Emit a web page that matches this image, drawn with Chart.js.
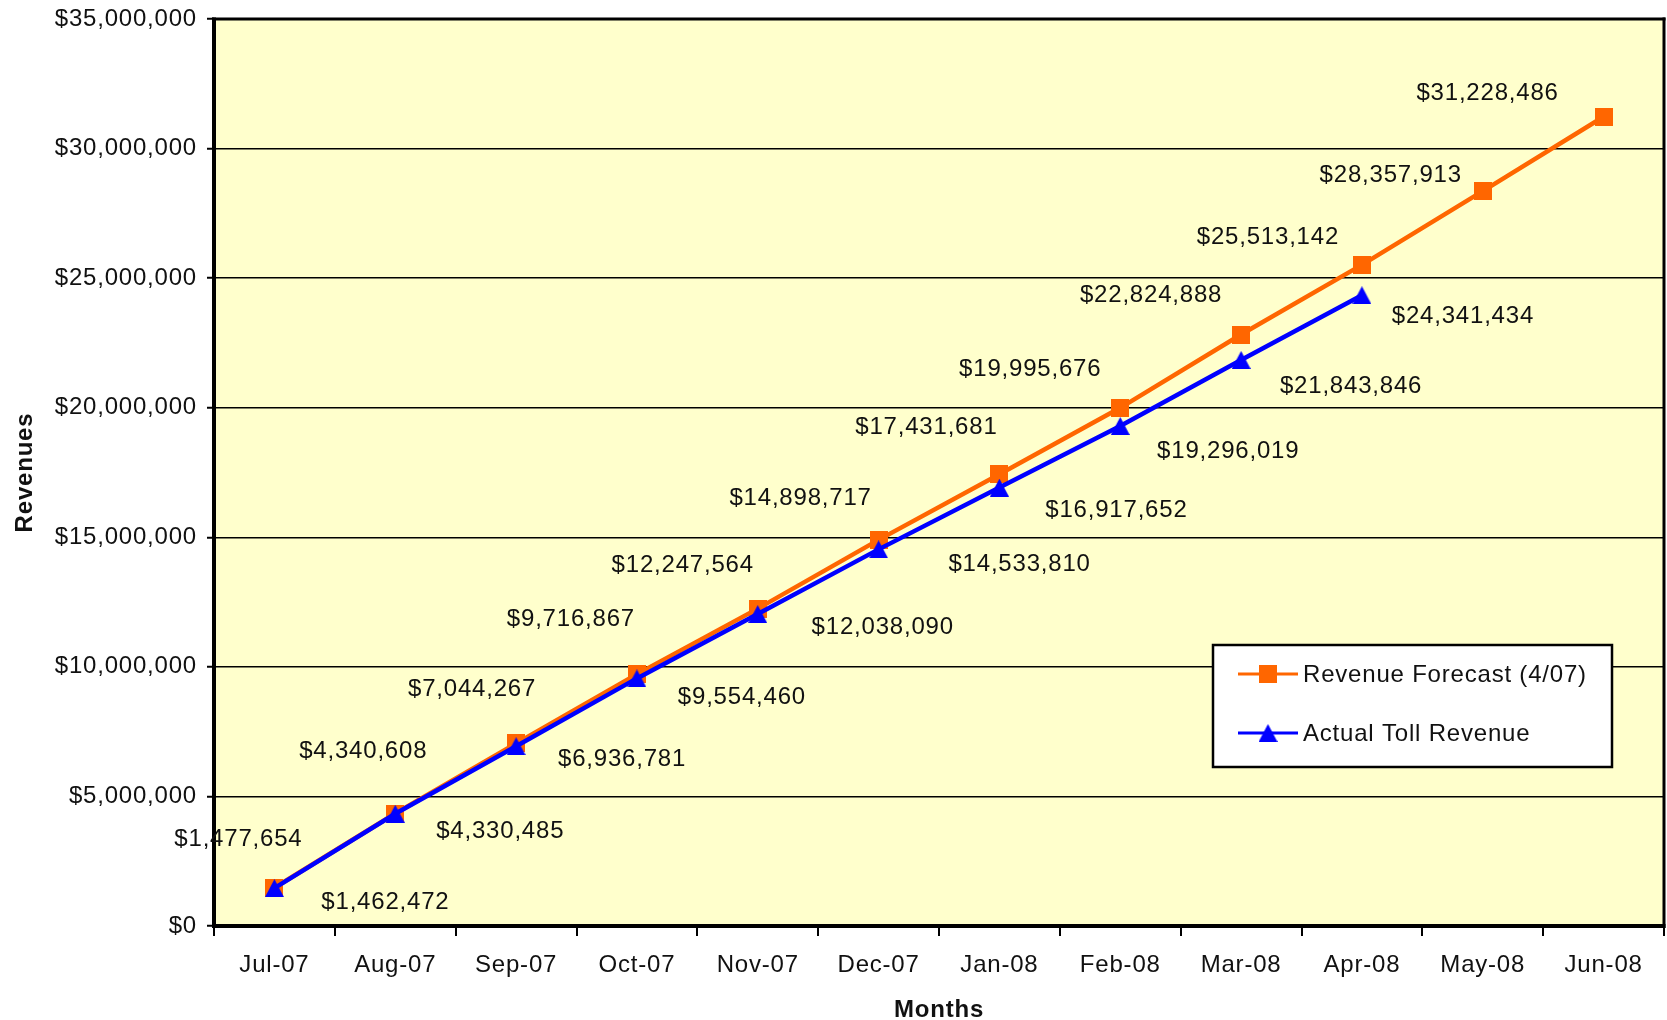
<!DOCTYPE html>
<html>
<head>
<meta charset="utf-8">
<script src="https://cdn.jsdelivr.net/npm/chart.js@4.4.0/dist/chart.umd.min.js"></script>
<style>
html,body{margin:0;padding:0;background:#fff;}
canvas{display:block;}
</style>
</head>
<body>
<canvas id="c" width="1667" height="1020" style="width:1667px;height:1020px"></canvas>
<script>
// ---- data ----
const months = ['Jul-07','Aug-07','Sep-07','Oct-07','Nov-07','Dec-07','Jan-08','Feb-08','Mar-08','Apr-08','May-08','Jun-08'];
const forecastRevenue = [1477654, 4340608, 7044267, 9716867, 12247564, 14898717, 17431681, 19995676, 22824888, 25513142, 28357913, 31228486];
const actualRevenue = [1462472, 4330485, 6936781, 9554460, 12038090, 14533810, 16917652, 19296019, 21843846, 24341434, null, null];
const seriesNames = ['Revenue Forecast (4/07)', 'Actual Toll Revenue'];
const yAxisMin = 0, yAxisMax = 35000000, yAxisStep = 5000000;
const xAxisTitle = 'Months';
const yAxisTitle = 'Revenues';

// ---- styling (label placement offsets in px relative to each point) ----
const forecastLabelShift = [[-36,-48],[-32,-62],[-44,-54],[-66,-55],[-75,-43],[-78,-42],[-73,-47],[-90,-38],[-90,-39],[-94,-27],[-92,-16],[-116,-23]];
const actualLabelShift = [[111,14],[105,18],[106,13],[105,19],[125,13],[141,15],[117,23],[108,25],[110,26],[101,21]];

const FONT = '"Liberation Sans", Arial, sans-serif';
const TEXT = '#111';
const money = v => '$' + Number(v).toLocaleString('en-US');

function makeSquare(size, color){
  const c = document.createElement('canvas'); c.width = size; c.height = size;
  const g = c.getContext('2d'); g.fillStyle = color; g.fillRect(0,0,size,size); return c;
}
function makeTriangle(w, h, color){
  const c = document.createElement('canvas'); c.width = w; c.height = h;
  const g = c.getContext('2d'); g.fillStyle = color;
  g.beginPath(); g.moveTo(w/2,0); g.lineTo(w,h); g.lineTo(0,h); g.closePath(); g.fill(); return c;
}
const squareMarker = makeSquare(18, '#FF6600');
const triangleMarker = makeTriangle(19, 18, '#0000FF');

const spacingPlugin = {
  id: 'spacing',
  beforeLayout(chart){ chart.ctx.letterSpacing = '0.8px'; },
  beforeDraw(chart){
    const ctx = chart.ctx;
    ctx.letterSpacing = '0.8px';
    const a = chart.chartArea;
    ctx.save();
    ctx.fillStyle = '#ffffff';
    ctx.fillRect(0,0,chart.width,chart.height);
    ctx.fillStyle = '#FFFFCC';
    ctx.fillRect(a.left, a.top, a.right - a.left, a.bottom - a.top);
    ctx.restore();
  }
};

const framePlugin = {
  id: 'frame',
  beforeDatasetsDraw(chart){
    const ctx = chart.ctx, a = chart.chartArea;
    ctx.save();
    ctx.fillStyle = '#000';
    ctx.fillRect(a.left-2, a.top-1.5, a.right-a.left+3.5, 3);
    ctx.fillRect(a.right-1.5, a.top-1.5, 3, a.bottom-a.top+3.5);
    ctx.fillRect(a.left-2, a.top-1.5, 4, a.bottom-a.top+3.5);
    ctx.fillRect(a.left-2, a.bottom-2, a.right-a.left+3.5, 4);
    ctx.restore();
  }
};

const valueLabelPlugin = {
  id: 'valueLabels',
  afterDatasetsDraw(chart){
    const ctx = chart.ctx;
    ctx.save();
    ctx.font = '24px ' + FONT;
    ctx.fillStyle = TEXT;
    ctx.textAlign = 'center';
    ctx.textBaseline = 'middle';
    chart.data.datasets.forEach((ds, i) => {
      const meta = chart.getDatasetMeta(i);
      const shifts = i === 0 ? forecastLabelShift : actualLabelShift;
      meta.data.forEach((pt, j) => {
        const v = ds.data[j];
        if (v === null || v === undefined) return;
        const s = shifts[j] || [0,-20];
        ctx.fillText(money(v), pt.x + s[0], pt.y + s[1]);
      });
    });
    ctx.restore();
  }
};

const legendPlugin = {
  id: 'boxLegend',
  afterDraw(chart){
    const ctx = chart.ctx, a = chart.chartArea;
    const bx = a.right - 451, by = a.top + 626, bw = 399, bh = 122;
    ctx.save();
    ctx.fillStyle = '#fff';
    ctx.fillRect(bx, by, bw, bh);
    ctx.strokeStyle = '#000';
    ctx.lineWidth = 2.5;
    ctx.strokeRect(bx, by, bw, bh);
    const rows = [by + 29, by + 88];
    chart.data.datasets.forEach((ds, i) => {
      const y = rows[i];
      ctx.strokeStyle = ds.borderColor;
      ctx.lineWidth = 3;
      ctx.beginPath(); ctx.moveTo(bx + 25, y); ctx.lineTo(bx + 85, y); ctx.stroke();
      const img = ds.pointStyle;
      ctx.drawImage(img, bx + 55 - img.width/2, y - img.height/2);
      ctx.fillStyle = TEXT;
      ctx.font = '24px ' + FONT;
      ctx.textAlign = 'left';
      ctx.textBaseline = 'middle';
      ctx.fillText(ds.label, bx + 90, y + 1);
    });
    ctx.restore();
  }
};

new Chart(document.getElementById('c').getContext('2d'), {
  type: 'line',
  data: {
    labels: months,
    datasets: [
      {
        label: seriesNames[0],
        data: forecastRevenue,
        borderColor: '#FF6600',
        backgroundColor: '#FF6600',
        borderWidth: 4.5,
        pointStyle: squareMarker,
        pointRadius: 9,
        fill: false,
        tension: 0,
        order: 2
      },
      {
        label: seriesNames[1],
        data: actualRevenue,
        borderColor: '#0000FF',
        backgroundColor: '#0000FF',
        borderWidth: 4.5,
        pointStyle: triangleMarker,
        pointRadius: 9,
        fill: false,
        tension: 0,
        order: 1
      }
    ]
  },
  options: {
    responsive: false,
    animation: false,
    devicePixelRatio: 1,
    layout: { autoPadding: false, padding: { left: 0, top: 19, right: 3, bottom: 0 } },
    plugins: { legend: { display: false }, tooltip: { enabled: false } },
    scales: {
      x: {
        offset: true,
        grid: { offset: true, drawOnChartArea: false, drawTicks: true, tickLength: 10, color: '#000', lineWidth: 2 },
        border: { display: false },
        ticks: { font: { family: FONT, size: 24 }, color: TEXT, padding: 15, maxRotation: 0, autoSkip: false },
        title: { display: true, text: xAxisTitle, color: TEXT, font: { family: FONT, size: 24, weight: 'bold', lineHeight: 0.8 }, padding: { top: 0, bottom: 0 } },
        afterFit(s){ s.height = 94; s.paddingLeft = 0; s.paddingRight = 0; }
      },
      y: {
        min: yAxisMin,
        max: yAxisMax,
        ticks: { stepSize: yAxisStep, callback: v => money(v), font: { family: FONT, size: 24 }, color: TEXT, padding: 10 },
        grid: { color: '#000', lineWidth: 1.5, tickLength: 7, tickWidth: 2 },
        border: { display: false },
        title: { display: true, text: yAxisTitle, color: TEXT, font: { family: FONT, size: 24, weight: 'bold', lineHeight: 1 }, padding: { top: 13, bottom: 0 } },
        afterFit(s){ s.width = 214; s.paddingTop = 0; s.paddingBottom = 0; }
      }
    }
  },
  plugins: [spacingPlugin, framePlugin, valueLabelPlugin, legendPlugin]
});
</script>
</body>
</html>
